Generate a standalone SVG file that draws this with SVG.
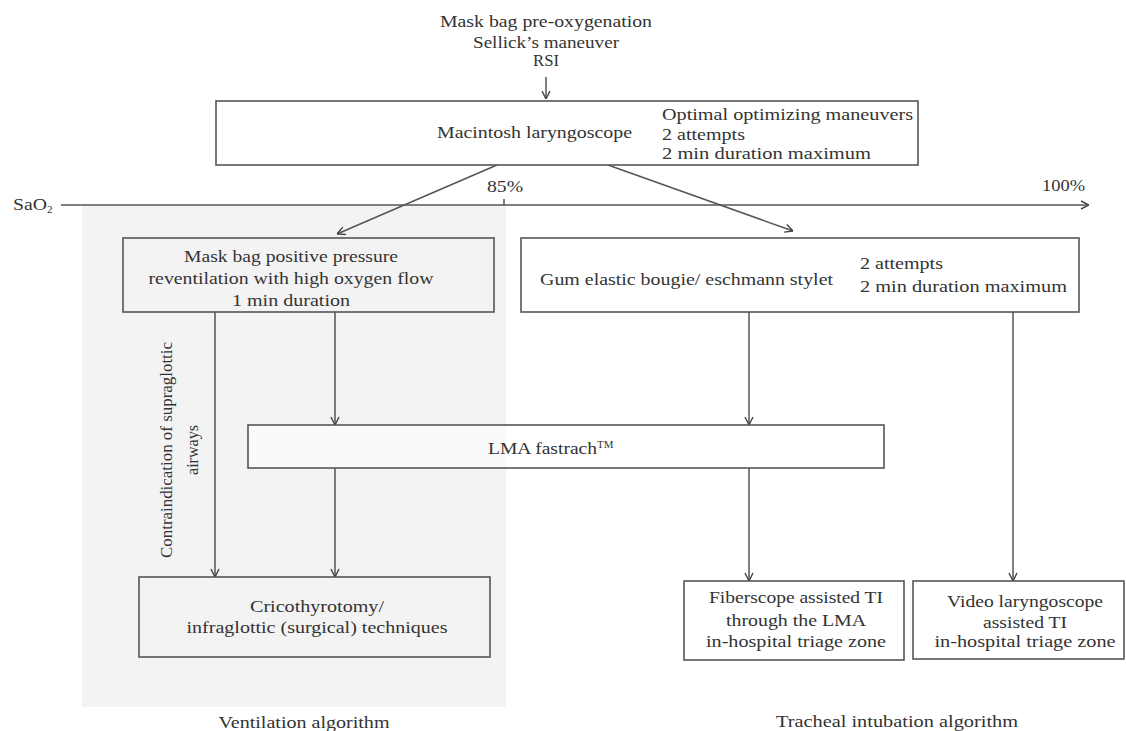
<svg xmlns="http://www.w3.org/2000/svg" width="1126" height="731" viewBox="0 0 1126 731">
<style>
text{font-family:"Liberation Serif","Times New Roman",serif;font-size:16px;fill:#333;}
.box{fill:#fff;stroke:#555;stroke-width:1.6;}
.gbox{fill:none;stroke:#555;stroke-width:1.6;}
.ln{stroke:#555;stroke-width:1.5;fill:none;}
.c{text-anchor:middle;}
</style>
<defs>
<marker id="ah" markerUnits="userSpaceOnUse" viewBox="0 0 10 10" refX="10" refY="5" markerWidth="10" markerHeight="10" orient="auto">
<path d="M2,1 L10,5 L2,9" fill="none" stroke="#444" stroke-width="1.4"/>
</marker>
</defs>
<rect id="ventilation-zone" x="82" y="205" width="424" height="502" fill="#f3f3f3"/>
<g id="premise">
<text x="546" y="27" class="c" textLength="212" lengthAdjust="spacingAndGlyphs">Mask bag pre-oxygenation</text>
<text x="546" y="48" class="c" textLength="146" lengthAdjust="spacingAndGlyphs">Sellick’s maneuver</text>
<text x="546" y="66" class="c" textLength="26" lengthAdjust="spacingAndGlyphs">RSI</text>
</g>
<g id="axis">
<text x="13" y="210" textLength="34" lengthAdjust="spacingAndGlyphs">SaO</text><text x="47" y="213" style="font-size:11px">2</text>
<text x="487" y="192" textLength="36" lengthAdjust="spacingAndGlyphs">85%</text>
<text x="1042" y="191" textLength="43" lengthAdjust="spacingAndGlyphs">100%</text>
</g>
<g id="connectors">
<line class="ln" x1="546" y1="77" x2="546" y2="99" marker-end="url(#ah)"/>
<line class="ln" x1="61" y1="205" x2="1089" y2="205" marker-end="url(#ah)"/>
<line class="ln" x1="504" y1="199" x2="504" y2="205"/>
<line class="ln" x1="497" y1="165" x2="337" y2="234" marker-end="url(#ah)"/>
<line class="ln" x1="608" y1="165" x2="793" y2="231" marker-end="url(#ah)"/>
<line class="ln" x1="215" y1="312" x2="215" y2="577" marker-end="url(#ah)"/>
<line class="ln" x1="335" y1="312" x2="335" y2="425" marker-end="url(#ah)"/>
<line class="ln" x1="335" y1="468" x2="335" y2="577" marker-end="url(#ah)"/>
<line class="ln" x1="749" y1="312" x2="749" y2="425" marker-end="url(#ah)"/>
<line class="ln" x1="749" y1="468" x2="749" y2="581" marker-end="url(#ah)"/>
<line class="ln" x1="1013" y1="312" x2="1013" y2="581" marker-end="url(#ah)"/>
<text transform="translate(172,450) rotate(-90)" class="c" textLength="216" lengthAdjust="spacingAndGlyphs">Contraindication of supraglottic</text>
<text transform="translate(198,450) rotate(-90)" class="c" textLength="50" lengthAdjust="spacingAndGlyphs">airways</text>
</g>
<g id="macintosh">
<rect class="box" x="216" y="101" width="702" height="64"/>
<text x="437" y="138" textLength="195" lengthAdjust="spacingAndGlyphs">Macintosh laryngoscope</text>
<text x="662" y="120" textLength="251" lengthAdjust="spacingAndGlyphs">Optimal optimizing maneuvers</text>
<text x="662" y="140" textLength="83" lengthAdjust="spacingAndGlyphs">2 attempts</text>
<text x="662" y="159" textLength="209" lengthAdjust="spacingAndGlyphs">2 min duration maximum</text>
</g>
<g id="mask-bag">
<rect class="gbox" x="123" y="238" width="371" height="74"/>
<text x="291" y="262" class="c" textLength="214" lengthAdjust="spacingAndGlyphs">Mask bag positive pressure</text>
<text x="291" y="284" class="c" textLength="285" lengthAdjust="spacingAndGlyphs">reventilation with high oxygen flow</text>
<text x="291" y="306" class="c" textLength="118" lengthAdjust="spacingAndGlyphs">1 min duration</text>
</g>
<g id="bougie">
<rect class="box" x="521" y="238" width="558" height="74"/>
<text x="540" y="285" textLength="293" lengthAdjust="spacingAndGlyphs">Gum elastic bougie/ eschmann stylet</text>
<text x="860" y="269" textLength="83" lengthAdjust="spacingAndGlyphs">2 attempts</text>
<text x="860" y="292" textLength="207" lengthAdjust="spacingAndGlyphs">2 min duration maximum</text>
</g>
<g id="lma">
<rect class="box" x="248" y="425" width="636" height="43" fill-opacity="0.6"/>
<text x="488" y="454"><tspan textLength="109" lengthAdjust="spacingAndGlyphs">LMA fastrach</tspan><tspan dy="-6" style="font-size:11px">TM</tspan></text>
</g>
<g id="cricothyrotomy">
<rect class="gbox" x="139" y="577" width="351" height="80"/>
<text x="317" y="612" class="c" textLength="134" lengthAdjust="spacingAndGlyphs">Cricothyrotomy/</text>
<text x="317" y="633" class="c" textLength="261" lengthAdjust="spacingAndGlyphs">infraglottic (surgical) techniques</text>
</g>
<g id="fiberscope">
<rect class="box" x="684" y="581" width="220" height="79"/>
<text x="796" y="603" class="c" textLength="174" lengthAdjust="spacingAndGlyphs">Fiberscope assisted TI</text>
<text x="796" y="626" class="c" textLength="140" lengthAdjust="spacingAndGlyphs">through the LMA</text>
<text x="796" y="647" class="c" textLength="180" lengthAdjust="spacingAndGlyphs">in-hospital triage zone</text>
</g>
<g id="video">
<rect class="box" x="913" y="581" width="211" height="78"/>
<text x="1025" y="607" class="c" textLength="156" lengthAdjust="spacingAndGlyphs">Video laryngoscope</text>
<text x="1025" y="628" class="c" textLength="84" lengthAdjust="spacingAndGlyphs">assisted TI</text>
<text x="1025" y="647" class="c" textLength="181" lengthAdjust="spacingAndGlyphs">in-hospital triage zone</text>
</g>
<g id="captions">
<text x="304" y="728" class="c" textLength="171" lengthAdjust="spacingAndGlyphs">Ventilation algorithm</text>
<text x="897" y="727" class="c" textLength="242" lengthAdjust="spacingAndGlyphs">Tracheal intubation algorithm</text>
</g>
</svg>
